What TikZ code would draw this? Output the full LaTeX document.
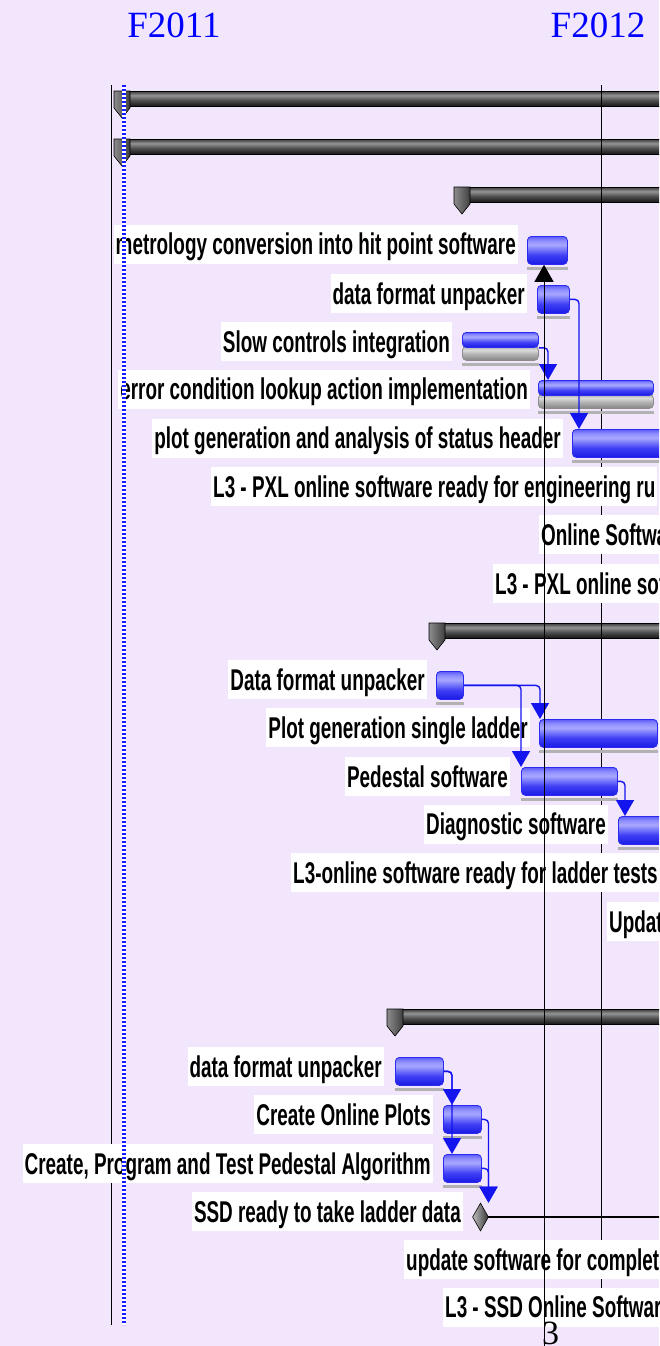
\documentclass[tikz,border=0pt]{standalone}
\usepackage{fontspec}
\newfontfamily\ganttfont[FakeStretch=0.63]{Liberation Sans}
\newfontfamily\yearfont{Liberation Serif}
\usetikzlibrary{arrows.meta,shapes.geometric}

% bar fills: blue task, grey baseline half, dark summary tube
\pgfdeclareverticalshading{taskfill}{100bp}{rgb(0bp)=(0.10,0.10,0.90); rgb(25bp)=(0.10,0.10,0.90); rgb(42bp)=(0.25,0.25,0.96); rgb(60bp)=(0.66,0.66,1); rgb(68bp)=(0.55,0.55,1); rgb(75bp)=(0.36,0.36,0.97); rgb(100bp)=(0.36,0.36,0.97)}
\pgfdeclareverticalshading{basefill}{100bp}{rgb(0bp)=(0.52,0.52,0.52); rgb(25bp)=(0.52,0.52,0.52); rgb(50bp)=(0.72,0.72,0.72); rgb(62bp)=(0.86,0.86,0.86); rgb(75bp)=(0.68,0.68,0.68); rgb(100bp)=(0.68,0.68,0.68)}
\pgfdeclareverticalshading{tubefill}{100bp}{rgb(0bp)=(0.08,0.08,0.08); rgb(25bp)=(0.08,0.08,0.08); rgb(45bp)=(0.3,0.3,0.3); rgb(62bp)=(0.58,0.58,0.58); rgb(75bp)=(0.25,0.25,0.25); rgb(100bp)=(0.25,0.25,0.25)}

\newcommand{\sumcap}[1]{\draw[capfill] ([xshift=-8pt]#1.north west) -- ++(16,0) -- ++(0,17) -- ++(-8,10) -- ++(-8,-10) -- cycle;}

\begin{document}
\begin{tikzpicture}[
    x=1pt, y=-1pt,
    lbl/.style={fill=white, font=\ganttfont\bfseries\fontsize{30}{30}\selectfont, text height=22pt, text depth=1pt, inner xsep=2pt, inner ysep=8pt, anchor=east},
    cutlbl/.style={lbl, anchor=west},
    task/.style={draw=taskedge, line width=0.8pt, shade, shading=taskfill, rounded corners=4pt, minimum width=#1, minimum height=28pt, inner sep=0pt, anchor=north west},
    tasktop/.style={task=#1, minimum height=15pt},
    taskbase/.style={draw=black!45, line width=0.8pt, shade, shading=basefill, rounded corners=4pt, minimum width=#1, minimum height=14pt, inner sep=0pt, anchor=north west},
    sumbar/.style={draw=black, line width=0.8pt, shade, shading=tubefill, minimum width=700pt, minimum height=15pt, inner sep=0pt, anchor=north west},
    capfill/.style={draw=black, line width=0.6pt, left color=black!45, right color=black!75},
    milestone/.style={diamond, draw=black, line width=0.6pt, left color=black!25, right color=black!80, minimum width=16pt, minimum height=28pt, inner sep=0pt},
    shadowbar/.style={fill=black!30},
    link/.style={linkblue, line width=1.4pt, rounded corners=4pt, -{Triangle[width=18pt,length=16pt]}},
    nowline/.style={black, line width=1pt, -{Triangle[width=19pt,length=17pt]}},
    gridline/.style={black, line width=0.9pt},
    year/.style={font=\yearfont\fontsize{37}{37}\selectfont, text=yearblue, inner sep=0pt},
  ]
    \definecolor{bgcol}{HTML}{F2E6FD}
    \definecolor{taskedge}{HTML}{2A2AF0}
    \definecolor{linkblue}{HTML}{1414EE}
    \definecolor{yearblue}{HTML}{0000FF}
    \definecolor{dotblue}{HTML}{1A1AFF}

    \fill[bgcol] (0,0) rectangle (659,1346);
    \useasboundingbox (0,0) rectangle (659,1346);

    \begin{scope}
    \clip (0,0) rectangle (659,1346);

    % summary bars
    \node[sumbar] (s1) at (122,91) {};
    \node[sumbar] (s2) at (122,139) {};
    \node[sumbar] (s3) at (462,187) {};
    \node[sumbar] (s4) at (437,623) {};
    \node[sumbar] (s5) at (395,1009) {};
    \sumcap{s1} \sumcap{s2} \sumcap{s3} \sumcap{s4} \sumcap{s5}

    % timeline rules
    \draw[gridline] (111,85) -- (111,1325);
    \draw[gridline] (601,85) -- (601,1288);

    % task bars
    \node[task=40pt] (t1) at (527,236) {};
    \node[task=32pt] (t2) at (537,285) {};
    \node[taskbase=76pt] (t3b) at (462,346) {};
    \node[tasktop=76pt] (t3) at (462,332) {};
    \node[taskbase=115pt] (t4b) at (538,394) {};
    \node[tasktop=115pt] (t4) at (538,380) {};
    \node[task=200pt] (t5) at (572,429) {};
    \node[task=27pt] (t9) at (436,671) {};
    \node[task=118pt] (t10) at (539,719) {};
    \node[task=96pt] (t11) at (521,767) {};
    \node[task=200pt] (t12) at (618,816) {};
    \node[task=48pt] (t15) at (395,1057) {};
    \node[task=38pt] (t16) at (443,1105) {};
    \node[task=38pt] (t17) at (443,1154) {};
    \foreach \b in {t1,t2,t3b,t4b,t5,t9,t10,t11,t12,t15,t16,t17}
      \fill[shadowbar] ([yshift=-2.5pt]\b.south west) rectangle ([yshift=-5.5pt]\b.south east);

    % milestone and its trailing line
    \coordinate (msend) at (700,1216);
    \draw[black, line width=1.2pt] (480.5,1217) -- (msend |- 480.5,1217);
    \node[milestone] (ms) at (480.5,1217) {};

    % task names
    \node[lbl] (l1) at (518,244) {metrology conversion into hit point software};
    \node[lbl] (l2) at (527,293.5) {data format unpacker};
    \node[lbl] (l3) at (452,341.5) {Slow controls integration};
    \node[lbl] (l4) at (530,389) {error condition lookup action implementation};
    \node[lbl] (l5) at (563,438) {plot generation and analysis of status header};
    \node[cutlbl] (l6) at (211,486.5) {L3 - PXL online software ready for engineering ru};
    \node[cutlbl] (l7) at (539,534.5) {Online Softwa};
    \node[cutlbl] (l8) at (493,583.5) {L3 - PXL online sof};
    \node[lbl] (l9) at (427,679.5) {Data format unpacker};
    \node[lbl] (l10) at (530,727.5) {Plot generation single ladder};
    \node[lbl] (l11) at (510,776.5) {Pedestal software};
    \node[lbl] (l12) at (608,824) {Diagnostic software};
    \node[cutlbl] (l13) at (291,872.5) {L3-online software ready for ladder tests};
    \node[cutlbl] (l14) at (607,921.5) {Updat};
    \node[lbl] (l15) at (384,1066.5) {data format unpacker};
    \node[lbl] (l16) at (433,1114.5) {Create Online Plots};
    \node[lbl] (l17) at (433,1163.5) {Create, Program and Test Pedestal Algorithm};
    \node[lbl] (l18) at (463,1211.5) {SSD ready to take ladder data};
    \node[cutlbl] (l19) at (404,1259.5) {update software for complet};
    \node[cutlbl] (l20) at (443,1307) {L3 - SSD Online Softwar};

    % dependency links
    \draw[link] (t2.east) -| ([xshift=7pt]t5.north west);
    \draw[link] (t3.south east) -| ([xshift=10pt]t4.north west);
    \draw[link] (t9.east) -| ([xshift=1pt]t10.north west);
    \draw[link] (t9.east) -| (t11.north west);
    \draw[link] (t11.east) -| ([xshift=7pt]t12.north west);
    \draw[link] (t15.east) -| ([xshift=9pt]t16.north west);
    \draw[link] (t15.east) -| ([xshift=9pt]t17.north west);
    \draw[link] (t16.east) -| ([xshift=8pt]ms.north);
    \draw[link] (t17.east) -| ([xshift=8pt]ms.north);

    % status date
    \coordinate (now) at (544,1346);
    \draw[nowline] (now) -- (now |- t1.south);

    % project start marker
    \draw[white, line width=3.5pt] (124,85) -- (124,1325);
    \draw[dotblue, line width=3.5pt, dash pattern=on 2pt off 2pt] (124,85) -- (124,1325);

    % fiscal years and page number
    \node[year] (fy11) at (174,25) {F2011};
    \node[year] (fy12) at (598,25) {F2012};
    \node[font=\yearfont\fontsize{34}{34}\selectfont, inner sep=0pt] (pg) at (550.5,1333.5) {3};
    \end{scope}
\end{tikzpicture}
\end{document}
